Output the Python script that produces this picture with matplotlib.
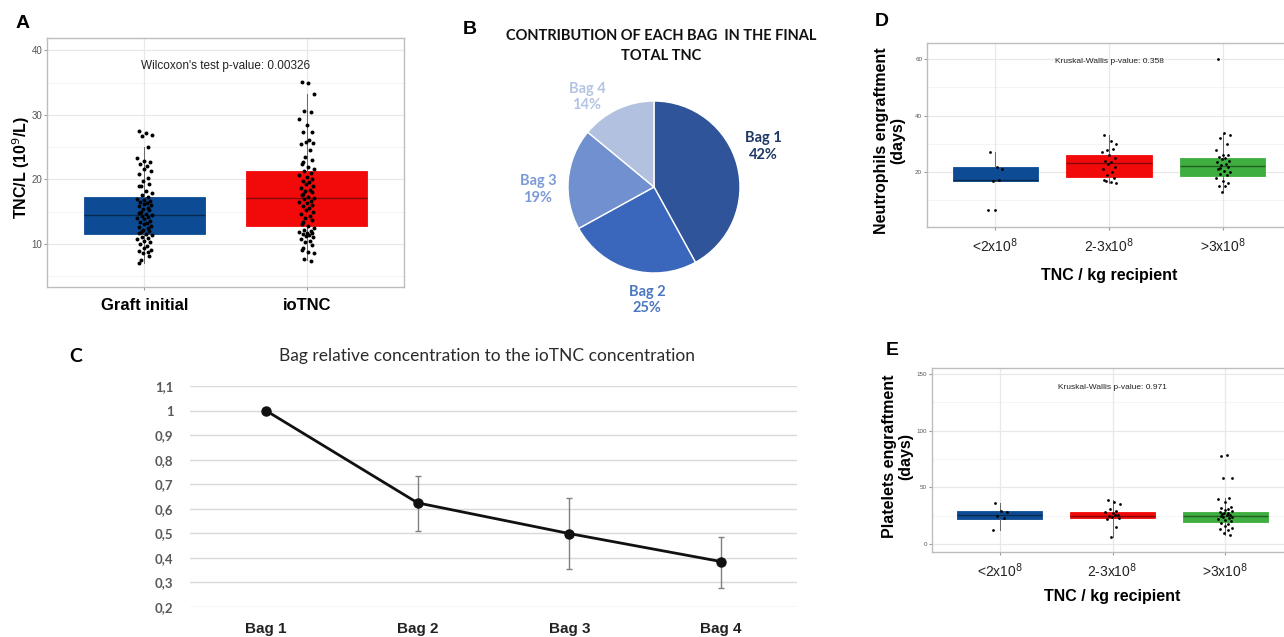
import numpy as np
import matplotlib
matplotlib.use("Agg")
import matplotlib.pyplot as plt

plt.rcParams['font.family'] = ['Liberation Sans', 'DejaVu Sans']

# ---------------- data ----------------
# A: TNC/L per group
a_groups = ["Graft initial", "ioTNC"]
graft_initial = [27.5, 27.2, 26.9, 26.7, 25.0, 23.3, 22.8, 22.6, 22.4, 22.0, 21.6, 21.3,
                 20.8, 20.2, 19.8, 19.3, 19.0, 18.9, 18.2, 17.8, 17.5, 17.2, 17.0, 16.8,
                 16.6, 16.5, 16.3, 16.1, 16.0, 15.8, 15.6, 15.4, 15.2, 15.0, 14.8, 14.6,
                 14.5, 14.3, 14.1, 14.0, 13.8, 13.6, 13.4, 13.2, 13.0, 12.8, 12.6, 12.4,
                 12.2, 12.0, 11.8, 11.6, 11.5, 11.3, 11.1, 10.9, 10.7, 10.5, 10.3, 10.0,
                 9.6, 9.3, 9.0, 8.9, 8.7, 8.5, 8.1, 7.5, 7.0]
iotnc = [35.1, 34.9, 33.2, 30.6, 30.5, 29.4, 28.4, 27.4, 27.3, 26.1, 25.8, 25.6, 25.4,
         24.6, 23.4, 23.0, 22.7, 22.3, 21.9, 21.6, 21.3, 21.0, 20.7, 20.4, 20.1, 19.8,
         19.5, 19.2, 18.9, 18.6, 18.4, 18.2, 18.0, 17.7, 17.5, 17.3, 17.1, 16.9, 16.7,
         16.5, 16.3, 16.0, 15.8, 15.5, 15.2, 14.9, 14.6, 14.3, 14.0, 13.7, 13.4, 13.1,
         12.8, 12.5, 12.2, 12.0, 11.8, 11.7, 11.6, 11.5, 11.4, 11.2, 11.0, 10.8, 10.5,
         10.2, 9.8, 9.4, 9.1, 8.8, 8.5, 7.6, 7.4]
a_q1 = [11.5, 12.8]
a_med = [14.4, 17.1]
a_q3 = [17.2, 21.3]
a_low = [7.0, 7.5]
a_high = [25.0, 33.2]

# B: contribution of each bag
b_labels = ["Bag 1", "Bag 2", "Bag 3", "Bag 4"]
b_share = [42, 25, 19, 14]

# C: relative concentration
c_bags = ["Bag 1", "Bag 2", "Bag 3", "Bag 4"]
c_mean = [1.0, 0.624, 0.499, 0.385]
c_lower = [1.0, 0.51, 0.355, 0.279]
c_upper = [1.0, 0.735, 0.643, 0.485]
c_ticks = [0.2, 0.3, 0.4, 0.5, 0.6, 0.7, 0.8, 0.9, 1.0, 1.1]
c_ticklabels = ["0,2", "0,3", "0,4", "0,5", "0,6", "0,7", "0,8", "0,9", "1", "1,1"]

# D / E: engraftment by TNC dose
dose_groups = ["<2x10$^{8}$", "2-3x10$^{8}$", ">3x10$^{8}$"]
d_low_dose = [27.0, 22.0, 21.0, 17.0, 17.2, 6.5, 6.6]
d_mid_dose = [33.0, 31.0, 30.0, 28.0, 28.2, 27.0, 26.0, 25.0, 24.0, 23.5, 23.0, 22.0,
              21.0, 20.0, 19.0, 18.0, 17.0, 17.2, 16.5, 16.0]
d_high_dose = [60.0, 34.0, 33.0, 32.0, 30.0, 28.0, 26.0, 26.2, 25.5, 25.0, 24.5, 24.0,
               23.5, 23.0, 22.5, 22.0, 21.5, 21.0, 20.5, 20.0, 19.5, 19.0, 18.0, 17.0,
               16.0, 15.0, 15.2, 13.0]
d_q1 = [16.9, 18.3, 18.7]
d_med = [17.2, 23.1, 22.2]
d_q3 = [21.9, 25.9, 25.1]
d_low = [16.9, 16.0, 13.0]
d_high = [27.0, 33.0, 34.0]

e_low_dose = [36.0, 29.0, 28.0, 25.0, 23.0, 12.0]
e_mid_dose = [39.0, 37.0, 35.0, 31.0, 29.0, 28.0, 27.0, 26.0, 25.0, 25.3, 24.0, 23.0,
              22.0, 15.0, 6.0]
e_high_dose = [78.0, 78.2, 58.0, 58.2, 41.0, 40.0, 37.0, 33.0, 32.0, 31.0, 30.0, 29.0,
               28.0, 27.0, 27.3, 26.0, 26.3, 25.0, 25.3, 24.0, 24.3, 23.0, 22.0, 21.0,
               20.0, 19.0, 18.0, 16.0, 14.0, 13.0, 12.0, 10.0, 8.0]
e_q1 = [22.5, 23.0, 19.1]
e_med = [25.5, 25.0, 24.5]
e_q3 = [29.0, 28.5, 28.0]
e_low = [12.0, 6.0, 8.0]
e_high = [36.0, 39.0, 41.0]

BLUE = "#0D4C94"
RED = "#F20A0A"
GREEN = "#3FAE40"
JITTER = [-0.6, 0.2, 0.9, -0.3, 0.5, -0.9, 0.0, 0.7, -0.5, 0.3, -0.1, 0.8, -0.7, 0.4, -0.2, 0.6, -0.4]


def darker(c, f=0.55):
    r, g, b = matplotlib.colors.to_rgb(c)
    return (r * f, g * f, b * f)


def gg_box_panel(ax, samples, q1, med, q3, lo, hi, colors, ylim, yticks, minor,
                 jit, pt_size, tick_fs):
    ax.set_facecolor("white")
    for y in yticks:
        ax.axhline(y, color="#E8E8E8", lw=0.9, zorder=0)
    for y in minor:
        ax.axhline(y, color="#F3F3F3", lw=0.6, zorder=0)
    pos = list(range(1, len(samples) + 1))
    for x in pos:
        ax.axvline(x, color="#E8E8E8", lw=0.9, zorder=0)
    stats = [dict(q1=q1[i], med=med[i], q3=q3[i], whislo=lo[i], whishi=hi[i])
             for i in range(len(samples))]
    bp = ax.bxp(stats, positions=pos, widths=0.75, patch_artist=True, showfliers=False,
                showcaps=False, whiskerprops=dict(color="#666666", lw=0.7),
                medianprops=dict(lw=1.0), zorder=2)
    for i, b in enumerate(bp["boxes"]):
        b.set_facecolor(colors[i])
        b.set_edgecolor(colors[i])
        b.set_linewidth(0.6)
        bp["medians"][i].set_color(darker(colors[i]))
    for i, vals in enumerate(samples):
        xs = [pos[i] + jit * JITTER[k % len(JITTER)] for k in range(len(vals))]
        ax.scatter(xs, vals, s=pt_size, color="black", zorder=3, lw=0)
    ax.set_xlim(0.4, len(samples) + 0.6)
    ax.set_ylim(*ylim)
    ax.set_yticks(yticks)
    ax.set_xticks(pos)
    for s in ax.spines.values():
        s.set_color("#BDBDBD")
        s.set_linewidth(1.0)
    ax.tick_params(axis="y", length=2, color="#999999", labelsize=tick_fs,
                   labelcolor="#555555", pad=1.5)
    ax.tick_params(axis="x", length=2, color="#999999")


fig = plt.figure(figsize=(12.84, 6.37), dpi=100)
W, H = 1284.0, 637.0


def box_px(l, t, r, b):
    return [l / W, 1 - b / H, (r - l) / W, (b - t) / H]


# ---------------- A ----------------
axA = fig.add_axes(box_px(47, 38, 404, 287))
gg_box_panel(axA, [graft_initial, iotnc], a_q1, a_med, a_q3, a_low, a_high,
             [BLUE, RED], (3.3, 41.9), [10, 20, 30, 40], [5, 15, 25, 35], 0.05, 8, 7)
axA.set_xticklabels(a_groups, fontsize=12, fontweight="bold")
axA.tick_params(axis="x", pad=6)
axA.set_ylabel("TNC/L (10$^{9}$/L)", fontsize=11.5, fontweight="bold")
axA.yaxis.set_label_coords(-0.042, 0.48)
axA.text(1.5, 37.5, "Wilcoxon's test p-value: 0.00326", ha="center", va="center",
         fontsize=8.5, color="#222222")
fig.text(23 / W, 1 - 24 / H, "A", fontsize=14, fontweight="bold", ha="center", va="center")

# ---------------- B ----------------
axB = fig.add_axes(box_px(654 - 86, 187 - 86, 654 + 86, 187 + 86))
pie_colors = ["#2F549A", "#3A67BB", "#7090CF", "#B3C1E1"]
axB.pie(b_share, colors=pie_colors, startangle=90, counterclock=False,
        wedgeprops=dict(edgecolor="white", linewidth=1.0))
axB.set_xlim(-1, 1)
axB.set_ylim(-1, 1)
lbl_pos = [(1.27, 0.47), (-0.08, -1.31), (-1.35, -0.03), (-0.78, 1.05)]
lbl_colors = ["#1F3864", "#4A78BE", "#7C9BD6", "#B4C4E4"]
for i, name in enumerate(b_labels):
    axB.text(lbl_pos[i][0], lbl_pos[i][1], f"{name}\n{b_share[i]}%", ha="center",
             va="center", fontsize=10.5, fontweight="bold", color=lbl_colors[i],
             family=["Lato", "DejaVu Sans"], linespacing=1.2)
fig.text(661 / W, 1 - 46 / H, "CONTRIBUTION OF EACH BAG  IN THE FINAL\nTOTAL TNC",
         ha="center", va="center", fontsize=10.5, fontweight="bold", color="#111111",
         family=["Lato", "DejaVu Sans"], linespacing=1.5)
fig.text(470 / W, 1 - 30 / H, "B", fontsize=14, fontweight="bold", ha="center", va="center")

# ---------------- C ----------------
axC = fig.add_axes(box_px(190, 386, 797, 607))
xc = np.arange(1, len(c_bags) + 1)
mean = np.array(c_mean)
yerr = [mean - np.array(c_lower), np.array(c_upper) - mean]
for t in c_ticks:
    axC.axhline(t, color="#D9D9D9", lw=1.0, zorder=0)
axC.errorbar(xc, mean, yerr=yerr, fmt="none", ecolor="#808080", elinewidth=1.0,
             capsize=2.5, zorder=2)
axC.plot(xc, mean, color="#111111", lw=2.0, marker="o", markersize=6.5, zorder=3)
axC.set_xlim(0.5, len(c_bags) + 0.5)
axC.set_ylim(0.2, 1.1)
axC.set_yticks(c_ticks)
axC.set_yticklabels(c_ticklabels, fontsize=9.5, fontweight="bold", color="#595959",
                    family=["Lato", "DejaVu Sans"])
axC.set_xticks(xc)
axC.set_xticklabels(c_bags, fontsize=11, fontweight="bold", color="#222222")
axC.tick_params(length=0, pad=11)
axC.tick_params(axis="y", pad=12)
for s in axC.spines.values():
    s.set_visible(False)
fig.text(487 / W, 1 - 356 / H, "Bag relative concentration to the ioTNC concentration",
         ha="center", va="center", fontsize=12.5, color="#2b2b2b",
         family=["Lato", "DejaVu Sans"])
fig.text(76 / W, 1 - 356 / H, "C", fontsize=14, fontweight="bold", ha="center",
         va="center", family=["Lato", "DejaVu Sans"])

# ---------------- D ----------------
axD = fig.add_axes(box_px(927, 43, 1291, 227))
gg_box_panel(axD, [d_low_dose, d_mid_dose, d_high_dose], d_q1, d_med, d_q3, d_low, d_high,
             [BLUE, RED, GREEN], (0.6, 65.7), [20, 40, 60], [10, 30, 50], 0.07, 4, 4.5)
axD.set_xticklabels(dose_groups, fontsize=10, color="#222222")
axD.tick_params(axis="x", pad=5)
axD.set_xlabel("TNC / kg recipient", fontsize=11.5, fontweight="bold", labelpad=9)
axD.set_ylabel("Neutrophils engraftment\n(days)", fontsize=11.5, fontweight="bold",
               linespacing=1.1)
axD.yaxis.set_label_coords(-0.06, 0.47)
axD.text(2.0, 59, "Kruskal-Wallis p-value: 0.358", ha="center", va="center",
         fontsize=6, color="#222222")
fig.text(882 / W, 1 - 22 / H, "D", fontsize=14, fontweight="bold", ha="center", va="center")

# ---------------- E ----------------
axE = fig.add_axes(box_px(932, 368, 1293, 552))
gg_box_panel(axE, [e_low_dose, e_mid_dose, e_high_dose], e_q1, e_med, e_q3, e_low, e_high,
             [BLUE, RED, GREEN], (-7, 155.3), [0, 50, 100, 150], [25, 75, 125], 0.07, 4, 4.5)
axE.set_xticklabels(dose_groups, fontsize=10, color="#222222")
axE.tick_params(axis="x", pad=5)
axE.set_xlabel("TNC / kg recipient", fontsize=11.5, fontweight="bold", labelpad=6)
axE.set_ylabel("Platelets engraftment\n(days)", fontsize=11.5, fontweight="bold",
               linespacing=1.1)
axE.yaxis.set_label_coords(-0.053, 0.52)
axE.text(2.0, 138.5, "Kruskal-Wallis p-value: 0.971", ha="center", va="center",
         fontsize=6, color="#222222")
fig.text(892 / W, 1 - 350 / H, "E", fontsize=14, fontweight="bold", ha="center", va="center")

fig.savefig("out.png", dpi=100, facecolor="white")
